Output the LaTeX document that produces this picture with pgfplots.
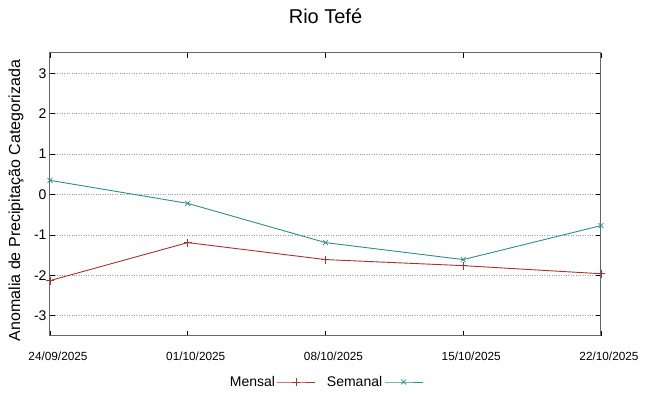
\documentclass[border=0pt]{standalone}
\usepackage{fontspec}
\setmainfont{Liberation Sans}
\usepackage{pgfplots}
\pgfplotsset{compat=1.18}
\definecolor{mred}{HTML}{A83232}
\definecolor{steal}{HTML}{2E8C8C}
\begin{document}
\begin{tikzpicture}
\begin{axis}[
  scale only axis,
  width=551pt, height=283pt,
  xmin=0, xmax=4, ymin=-3.5, ymax=3.5,
  xtick={0,1,2,3,4},
  xticklabels={24/09/2025,01/10/2025,08/10/2025,15/10/2025,22/10/2025},
  ytick={-3,-2,-1,0,1,2,3},
  /pgf/number format/assume math mode=true,
  tick align=inside,
  major tick length=5pt,
  tick style={black, line width=0.8pt},
  axis line style={black!60, line width=1pt},
  ymajorgrids,
  grid style={dotted, black!40, line width=0.6pt},
  x tick label style={font=\fontsize{11.8}{13}\selectfont, yshift=-12pt, xshift=8pt},
  y tick label style={font=\fontsize{14}{16}\selectfont},
  ylabel={Anomalia de Precipitação Categorizada},
  ylabel style={font=\fontsize{16}{18}\selectfont, at={(axis description cs:0,0.5)}, anchor=south, yshift=23pt, xshift=-6pt},
  title={Rio Tefé},
  title style={font=\fontsize{20}{24}\selectfont, at={(axis description cs:0.5,1)}, anchor=center, yshift=31pt},
  legend columns=2,
  legend plot pos=right,
  legend style={draw=none, fill=none, font=\fontsize{14}{16}\selectfont, at={(axis description cs:0.5,0)}, anchor=center, yshift=-46pt, xshift=0pt, /tikz/every even column/.append style={column sep=9pt}},
  legend image code/.code={\draw[mark repeat=2,mark phase=2,#1] plot coordinates {(0pt,0pt) (19pt,0pt) (38pt,0pt)};},
]
\addplot[mred, line width=0.9pt, mark=+, mark size=4pt, mark options={mred, line width=0.7pt}] coordinates {
(0,-2.13) (1,-1.19) (2,-1.61) (3,-1.76) (4,-1.96)};
\addlegendentry{Mensal}
\addplot[steal, line width=0.9pt, mark=x, mark size=3.5pt, mark options={steal, line width=0.7pt}] coordinates {
(0,0.35) (1,-0.22) (2,-1.19) (3,-1.61) (4,-0.77)};
\addlegendentry{Semanal}
\end{axis}
\pgfresetboundingbox
\path (current axis.south west) ++(-50pt,-60pt) rectangle ++(649pt,396pt);
\end{tikzpicture}
\end{document}
